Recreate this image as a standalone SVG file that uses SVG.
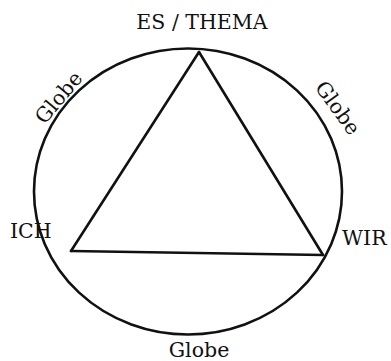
<svg xmlns="http://www.w3.org/2000/svg" width="391" height="361" viewBox="0 0 391 361">
<style>
.lbl{font-family:"DejaVu Serif","Liberation Serif",serif;font-size:20.5px;fill:#111}
.ln{fill:none;stroke:#111;stroke-width:2.6;stroke-linejoin:miter;stroke-linecap:round}
</style>
<rect width="391" height="361" fill="#fff"/>
<g id="globe">
<ellipse class="ln" cx="188" cy="191.5" rx="154" ry="143"/>
</g>
<g id="connectors">
<path class="ln" d="M199,52 L71,251"/>
<path class="ln" d="M199,52 L323,255"/>
<path class="ln" d="M71,251 L323,255"/>
</g>
<g id="es-thema"><text class="lbl" x="202" y="29" text-anchor="middle">ES / THEMA</text></g>
<g id="ich"><text class="lbl" x="10" y="238">ICH</text></g>
<g id="wir"><text class="lbl" x="342" y="245">WIR</text></g>
<g id="globe-left"><text class="lbl" text-anchor="middle" transform="translate(64,102) rotate(-50)">Globe</text></g>
<g id="globe-right"><text class="lbl" text-anchor="middle" transform="translate(332,112) rotate(54)">Globe</text></g>
<g id="globe-bottom"><text class="lbl" x="199" y="357" text-anchor="middle">Globe</text></g>
</svg>
